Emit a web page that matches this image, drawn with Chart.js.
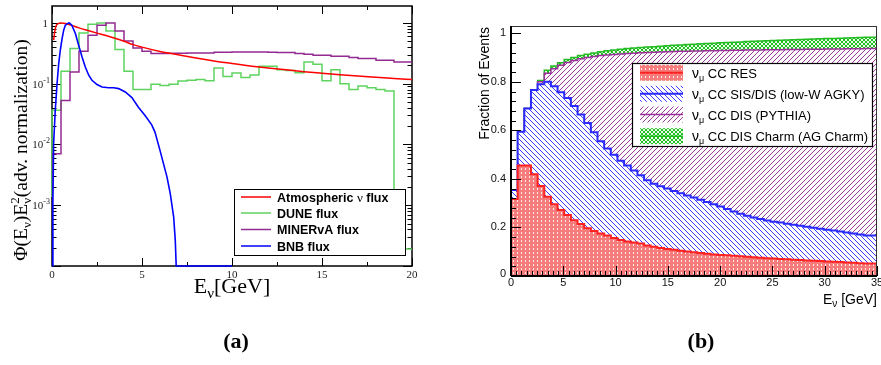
<!DOCTYPE html>
<html><head><meta charset="utf-8">
<script src="https://cdn.jsdelivr.net/npm/chart.js@4.4.1/dist/chart.umd.min.js"></script>
<style>
html,body{margin:0;padding:0;background:#fff;width:881px;height:365px;overflow:hidden;}
canvas{position:absolute;top:0;}
#ca{left:0}
#cb{left:440px}
</style></head><body>
<canvas id="ca" width="440" height="365"></canvas>
<canvas id="cb" width="441" height="365"></canvas>
<script>
// ---------------- Panel (a) data ----------------
const atmE    = [0.09,0.15,0.22,0.33,0.5,0.75,1,1.5,2,2.5,3,3.5,4,4.5,5,6,7,8,9,10,11,12,13,14,15,16,17,18,19,20];
const atmFlux = [0.52,0.71,0.88,0.97,1.0,0.98,0.93,0.83,0.75,0.68,0.62,0.56,0.50,0.44,0.40,0.34,0.30,0.265,0.237,0.215,0.196,0.181,0.169,0.158,0.149,0.141,0.134,0.128,0.122,0.117];
const bnbE    = [0.02,0.05,0.09,0.18,0.28,0.37,0.46,0.56,0.65,0.74,0.87,0.96,1.1,1.3,1.48,1.67,1.85,2.04,2.22,2.5,2.78,3.15,3.43,3.7,4.07,4.44,4.8,5.17,5.54,5.72,6.0,6.39,6.57,6.76,6.85,6.9,10];
const bnbFlux = [1e-4,1.2e-3,0.0103,0.036,0.1,0.21,0.355,0.55,0.76,0.916,0.98,1.0,0.916,0.67,0.43,0.275,0.188,0.138,0.114,0.097,0.088,0.086,0.086,0.083,0.073,0.059,0.041,0.030,0.021,0.016,0.008,2.9e-3,1.55e-3,6.4e-4,2.6e-4,1e-4,1e-4];
// 0.5 GeV bins, 0-20 GeV
const duneFlux = [1.36e-3,0.0365,0.16,0.38,0.685,0.95,1.0,0.74,0.365,0.16,
                  0.08,0.08,0.098,0.093,0.098,0.111,0.114,0.117,0.112,0.181,
                  0.132,0.15,0.126,0.139,0.194,0.194,0.17,0.165,0.152,0.228,
                  0.209,0.112,0.17,0.10,0.08,0.092,0.086,0.08,0.076,1.9e-4];
const minervaFlux = [3.06e-4,7.05e-3,0.053,0.156,0.342,0.627,0.916,1.0,0.74,0.505,
                  0.387,0.342,0.313,0.313,0.316,0.316,0.32,0.32,0.32,0.33,
                  0.33,0.333,0.333,0.333,0.333,0.33,0.325,0.325,0.313,0.305,
                  0.294,0.294,0.283,0.283,0.27,0.259,0.259,0.243,0.243,0.228];
const aXTicks = [0,5,10,15,20];
const aYTickExp = [0,-1,-2,-3];
const fluxNames = ['Atmospheric ν flux','DUNE flux','MINERvA flux','BNB flux'];
const fluxColors = ['#ff0000','#5fd35f','#922b92','#0000ff'];

// ---------------- Panel (b) data (cumulative stack tops, 55 bins 0-35 GeV) ----------------
const resTop = [0.045,0.317,0.455,0.455,0.419,0.371,0.327,0.296,0.272,0.251,
                0.230,0.214,0.197,0.185,0.175,0.167,0.157,0.148,0.142,0.138,
                0.134,0.126,0.121,0.115,0.111,0.108,0.104,0.101,0.098,0.095,
                0.092,0.089,0.087,0.085,0.083,0.081,0.079,0.077,0.075,0.073,
                0.072,0.070,0.069,0.067,0.066,0.064,0.063,0.062,0.060,0.059,
                0.058,0.056,0.055,0.053,0.052];
const sisTop = [0.053,0.354,0.594,0.690,0.766,0.790,0.800,0.782,0.757,0.733,
                0.700,0.665,0.630,0.592,0.555,0.525,0.500,0.475,0.455,0.435,
                0.415,0.395,0.380,0.370,0.360,0.350,0.341,0.332,0.323,0.314,
                0.305,0.296,0.286,0.276,0.266,0.256,0.248,0.241,0.235,0.229,
                0.224,0.220,0.215,0.211,0.207,0.203,0.199,0.195,0.191,0.187,
                0.183,0.179,0.175,0.171,0.167];
const disTop = [0.053,0.354,0.594,0.690,0.766,0.800,0.835,0.854,0.868,0.880,
                0.888,0.895,0.900,0.904,0.908,0.911,0.913,0.915,0.917,0.918,
                0.920,0.921,0.922,0.923,0.924,0.925,0.926,0.926,0.927,0.927,
                0.928,0.928,0.929,0.929,0.930,0.930,0.931,0.931,0.931,0.932,
                0.932,0.932,0.933,0.933,0.933,0.934,0.934,0.934,0.935,0.935,
                0.935,0.936,0.936,0.936,0.937];
const charmTop = [0.053,0.354,0.594,0.690,0.766,0.805,0.848,0.865,0.879,0.892,
                0.900,0.908,0.914,0.919,0.924,0.928,0.931,0.934,0.937,0.939,
                0.941,0.943,0.945,0.947,0.949,0.951,0.952,0.954,0.955,0.957,
                0.958,0.959,0.961,0.962,0.963,0.964,0.966,0.967,0.968,0.969,
                0.970,0.971,0.972,0.973,0.974,0.975,0.976,0.977,0.978,0.979,
                0.980,0.981,0.982,0.983,0.984];
const bXTicks = [0,5,10,15,20,25,30,35];
const bYTicks = [0,0.2,0.4,0.6,0.8,1];
const bYTickLabels = ['0','0.2','0.4','0.6','0.8','1'];
const procNames = ['CC RES','CC SIS/DIS (low-W AGKY)','CC DIS (PYTHIA)','CC DIS Charm (AG Charm)'];

// ---------------- helpers ----------------
const FS = "'Liberation Serif','Times New Roman',serif";
const SS = "'Liberation Sans',Arial,sans-serif";
function edges(n, lo, hi){ const e=[]; for(let i=0;i<=n;i++) e.push(lo+(hi-lo)*i/n); return e; }
function hist(ed, vals){ const p = vals.map((v,i)=>({x:ed[i],y:v})); p.push({x:ed[vals.length], y:vals[vals.length-1]}); return p; }
function pts(xs, ys){ return xs.map((x,i)=>({x:x,y:ys[i]})); }
function richWidth(ctx, parts){ let w=0; for(const p of parts){ if(p.stack){ let m=0; for(const q of p.stack){ ctx.font=q.f; m=Math.max(m,ctx.measureText(q.t).width);} w+=m; } else { ctx.font=p.f; w+=ctx.measureText(p.t).width; } } return w; }
function drawRich(ctx, parts, x, y, align){
  const w = richWidth(ctx, parts);
  let cx = align==='right' ? x-w : align==='center' ? x-w/2 : x;
  ctx.textAlign='left'; ctx.textBaseline='alphabetic';
  for(const p of parts){
    if(p.stack){ let m=0; for(const q of p.stack){ ctx.font=q.f; ctx.fillText(q.t,cx,y+(q.dy||0)); m=Math.max(m,ctx.measureText(q.t).width);} cx+=m; }
    else { ctx.font=p.f; ctx.fillText(p.t,cx,y+(p.dy||0)); cx+=ctx.measureText(p.t).width; }
  }
}
function seg(ctx,x1,y1,x2,y2){ ctx.moveTo(x1,y1); ctx.lineTo(x2,y2); }
function mkPattern(ctx, size, fn){ const c=document.createElement('canvas'); c.width=c.height=size; const g=c.getContext('2d'); fn(g,size); return ctx.createPattern(c,'repeat'); }

// ---------------- Panel (a) ----------------
const panelA = { id:'panelA',
 beforeDatasetsDraw(chart){
  const ctx=chart.ctx, a=chart.chartArea, xs=chart.scales.x, ys=chart.scales.y;
  ctx.save();
  ctx.strokeStyle='#000'; ctx.lineWidth=1;
  ctx.beginPath();
  for(let v=0; v<=20.001; v+=2.5){
    const px=Math.round(xs.getPixelForValue(v))+0.5, L=(Math.abs(v%5)<1e-6)?8:4;
    seg(ctx,px,a.bottom,px,a.bottom-L); seg(ctx,px,a.top,px,a.top+L);
  }
  for(let e=-4;e<=0;e++) for(let m=1;m<=9;m++){
    const v=m*Math.pow(10,e); if(v>1.9) break;
    const py=Math.round(ys.getPixelForValue(v))+0.5, L=(m===1)?9:4.5;
    seg(ctx,a.left,py,a.left+L,py); seg(ctx,a.right,py,a.right-L,py);
  }
  ctx.stroke();
  ctx.lineWidth=1.5; ctx.strokeRect(a.left,a.top,a.right-a.left,a.bottom-a.top);
  ctx.restore();
 },
 afterDraw(chart){
  const ctx=chart.ctx, a=chart.chartArea, xs=chart.scales.x, ys=chart.scales.y;
  ctx.save();
  // tick labels
  ctx.fillStyle='#222';
  ctx.font='11px '+FS; ctx.textAlign='center'; ctx.textBaseline='middle';
  aXTicks.forEach(v=>ctx.fillText(String(v), xs.getPixelForValue(v), 275));
  aYTickExp.forEach(e=>{
    const py=ys.getPixelForValue(Math.pow(10,e));
    if(e===0) drawRich(ctx,[{t:'1',f:'11px '+FS}],48,py+4,'right');
    else drawRich(ctx,[{t:'10',f:'11px '+FS},{t:'-'+(-e),f:'8px '+FS,dy:-5}],50,py+4,'right');
  });
  // axis titles
  ctx.fillStyle='#000';
  const F18='19.5px '+FS, F12='13px '+FS;
  ctx.save(); ctx.translate(27,150); ctx.rotate(-Math.PI/2);
  drawRich(ctx,[{t:'Φ(E',f:F18},{t:'ν',f:F12,dy:4},{t:')E',f:F18},{stack:[{t:'2',f:F12,dy:-8},{t:'ν',f:F12,dy:4}]},{t:'(adv. normalization)',f:F18}],0,0,'center');
  ctx.restore();
  drawRich(ctx,[{t:'E',f:'22px '+FS},{t:'ν',f:'15px '+FS,dy:5},{t:'[GeV]',f:'22px '+FS}],232,292.5,'center');
  drawRich(ctx,[{t:'(a)',f:'bold 22px '+FS}],236,348,'center');
  // legend
  ctx.fillStyle='#fff'; ctx.fillRect(234.5,189.5,171,66);
  ctx.strokeStyle='#000'; ctx.lineWidth=1; ctx.strokeRect(234.5,189.5,171,66);
  const rows=[197,213,229.5,246];
  fluxNames.forEach((n,i)=>{
    ctx.strokeStyle=fluxColors[i]; ctx.lineWidth=1.5;
    ctx.beginPath(); seg(ctx,241,rows[i],271,rows[i]); ctx.stroke();
    ctx.fillStyle='#000';
    const parts=[]; const sp=n.split('ν');
    sp.forEach((s,k)=>{ if(k>0) parts.push({t:'ν',f:'13px '+FS}); if(s) parts.push({t:s,f:'bold 12.5px '+SS}); });
    drawRich(ctx,parts,277,rows[i]+4.5,'left');
  });
  ctx.restore();
 }};

const edA = edges(40,0,20);
new Chart(document.getElementById('ca').getContext('2d'), {
  type:'line',
  data:{datasets:[
    {data:pts(bnbE,bnbFlux), borderColor:fluxColors[3], borderWidth:1.6, pointRadius:0, fill:false, tension:0, clip:3},
    {data:pts(atmE,atmFlux), borderColor:fluxColors[0], borderWidth:1.5, pointRadius:0, fill:false, cubicInterpolationMode:'monotone'},
    {data:hist(edA,minervaFlux), borderColor:fluxColors[2], borderWidth:1.5, pointRadius:0, fill:false, stepped:'after'},
    {data:hist(edA,duneFlux), borderColor:fluxColors[1], borderWidth:1.5, pointRadius:0, fill:false, stepped:'after', clip:3}
  ]},
  options:{responsive:false, animation:false, devicePixelRatio:1,
    layout:{padding:{left:52,top:6,right:28,bottom:99}},
    scales:{x:{type:'linear',min:0,max:20,display:false}, y:{type:'logarithmic',min:1e-4,max:1.9,display:false}},
    plugins:{legend:{display:false},tooltip:{enabled:false}}},
  plugins:[panelA]
});

// ---------------- Panel (b) ----------------
const ctxB = document.getElementById('cb').getContext('2d');
const OX = 440;
const patRes = mkPattern(ctxB,4,(g,s)=>{ g.fillStyle='#f67c7c'; g.fillRect(0,0,s,s); g.fillStyle='rgba(255,255,255,0.85)'; g.fillRect(1,0,1,2); });
const patSis = mkPattern(ctxB,5,(g,s)=>{ g.fillStyle='#fff'; g.fillRect(0,0,s,s); g.fillStyle='#3c3cff'; for(let i=0;i<s;i++) g.fillRect(i,i,1,1); });
const patDis = mkPattern(ctxB,5,(g,s)=>{ g.fillStyle='#fff'; g.fillRect(0,0,s,s); g.fillStyle='#9a3a9a'; for(let i=0;i<s;i++) g.fillRect(s-1-i,i,1,1); });
const patCh  = mkPattern(ctxB,4,(g,s)=>{ g.fillStyle='#e6fae6'; g.fillRect(0,0,s,s); g.fillStyle='#22c022'; for(let i=0;i<s;i++){ g.fillRect(i,i,1,1); g.fillRect(s-1-i,i,1,1);} });
const procFills = [patRes,patSis,patDis,patCh];
const procLines = ['#ff2020','#2a2aff','#993399','#22bb22'];

const panelB = { id:'panelB', afterDraw(chart){
  const ctx=chart.ctx, a=chart.chartArea, xs=chart.scales.x, ys=chart.scales.y;
  ctx.save();
  ctx.strokeStyle='#000'; ctx.lineWidth=1;
  ctx.beginPath();
  for(let k=0;k<=70;k++){ const v=k*0.5; const px=Math.round(xs.getPixelForValue(v))+0.5; const L=(k%10===0)?10:5; seg(ctx,px,a.bottom,px,a.bottom-L); }
  for(let k=0;k<=25;k++){ const v=k*0.04; const py=Math.round(ys.getPixelForValue(v))+0.5; const L=(k%5===0)?10:5; seg(ctx,a.left,py,a.left+L,py); }
  ctx.stroke();
  ctx.lineWidth=1; ctx.strokeStyle='#333'; ctx.strokeRect(a.left+0.5,a.top+0.5,a.right-a.left-1,a.bottom-a.top);
  ctx.strokeStyle='#000'; ctx.lineWidth=2;
  ctx.beginPath(); seg(ctx,a.left,a.top,a.left,a.bottom); seg(ctx,a.left,a.bottom,a.right,a.bottom); ctx.stroke();
  // tick labels
  ctx.fillStyle='#111'; ctx.font='11px '+SS; ctx.textAlign='center'; ctx.textBaseline='middle';
  bXTicks.forEach(v=>ctx.fillText(String(v), xs.getPixelForValue(v), 282.5));
  ctx.textAlign='right';
  bYTicks.forEach((v,i)=>ctx.fillText(bYTickLabels[i], 506-OX, ys.getPixelForValue(v)-(i===0?2:0)));
  // titles
  ctx.fillStyle='#000';
  ctx.save(); ctx.translate(485-OX,27); ctx.rotate(-Math.PI/2);
  ctx.font='14px '+SS; ctx.textAlign='right'; ctx.textBaseline='middle'; ctx.fillText('Fraction of Events',0,0);
  ctx.restore();
  drawRich(ctx,[{t:'E',f:'14px '+SS},{t:'ν',f:'10px '+SS,dy:3},{t:' [GeV]',f:'14px '+SS}],877-OX,303.5,'right');
  drawRich(ctx,[{t:'(b)',f:'bold 22px '+FS}],701-OX,348,'center');
  // legend
  const bx=632-OX, by=63;
  ctx.fillStyle='#fff'; ctx.fillRect(bx,by,241,84);
  ctx.strokeStyle='#000'; ctx.lineWidth=1.2; ctx.strokeRect(bx+0.5,by+0.5,240,83);
  const rows=[72.8,93.8,114.5,136.2];
  procNames.forEach((n,i)=>{
    const sx=640-OX, sw=43, sy=rows[i]-8;
    ctx.fillStyle=procFills[i]; ctx.fillRect(sx,sy,sw,16);
    ctx.strokeStyle=procLines[i]; ctx.lineWidth=(i<2)?2:1.5;
    ctx.beginPath(); seg(ctx,sx,rows[i],sx+sw,rows[i]); ctx.stroke();
    ctx.fillStyle='#000';
    drawRich(ctx,[{t:'ν',f:'14px '+SS},{t:'μ',f:'9px '+SS,dy:3},{t:' '+n,f:'13px '+SS}],692-OX,rows[i]+5,'left');
  });
  ctx.restore();
}};

const edB = edges(55,0,35);
new Chart(ctxB, {
  type:'line',
  data:{datasets:[
    {data:hist(edB,resTop), borderColor:procLines[0], borderWidth:2, backgroundColor:patRes, fill:'origin', stepped:'after', pointRadius:0},
    {data:hist(edB,sisTop), borderColor:procLines[1], borderWidth:2, backgroundColor:patSis, fill:'-1', stepped:'after', pointRadius:0},
    {data:hist(edB,disTop), borderColor:procLines[2], borderWidth:1.5, backgroundColor:patDis, fill:'-1', stepped:'after', pointRadius:0},
    {data:hist(edB,charmTop), borderColor:procLines[3], borderWidth:1.5, backgroundColor:patCh, fill:'-1', stepped:'after', pointRadius:0}
  ]},
  options:{responsive:false, animation:false, devicePixelRatio:1,
    layout:{padding:{left:71,top:26,right:4,bottom:89}},
    scales:{x:{type:'linear',min:0,max:35,display:false}, y:{type:'linear',min:0,max:1.03,display:false}},
    plugins:{legend:{display:false},tooltip:{enabled:false}}},
  plugins:[panelB]
});
</script></body></html>
